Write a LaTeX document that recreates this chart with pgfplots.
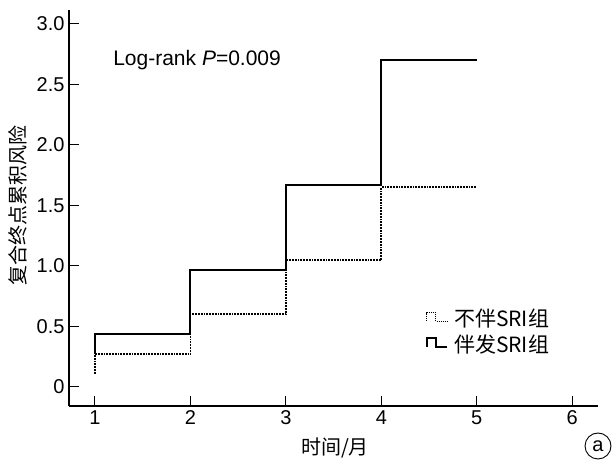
\documentclass[border=0pt]{standalone}
\usepackage{pgfplots}
\pgfplotsset{compat=1.18}
\usepackage{fontspec}
\setmainfont{Liberation Sans}
\newfontfamily\cjk{Noto Sans CJK SC}
\begin{document}
\begin{tikzpicture}
\begin{axis}[
  scale only axis,
  width=529pt, height=396pt,
  at={(0,0)}, anchor=south west,
  xmin=0.728, xmax=6.27,
  ymin=-0.157, ymax=3.115,
  axis lines=left,
  axis line style={-, line width=1.3pt},
  xtick={1,2,3,4,5,6},
  ytick={0,0.5,1,1.5,2,2.5,3},
  yticklabels={0,0.5,1.0,1.5,2.0,2.5,3.0},
  tick align=inside,
  major tick length=10pt,
  tick style={line width=1pt, black},
  /pgf/number format/assume math mode=true,
  ticklabel style={font=\fontsize{20}{22}\selectfont},
  xticklabel style={yshift=-1pt},
  yticklabel style={xshift=-1pt},
  clip=false,
]
\addplot[black, line width=1.8pt, densely dotted] coordinates {
 (1,0.11) (1,0.27) (2,0.27) (2,0.60) (3,0.60) (3,1.05) (4,1.05) (4,1.65) (5,1.65)};
\addplot[black, line width=2pt] coordinates {
 (1,0.27) (1,0.44) (2,0.44) (2,0.97) (3,0.97) (3,1.67) (4,1.67) (4,2.70) (5,2.70)};
\node[anchor=west, font=\fontsize{21}{24}\selectfont, inner sep=0pt] at (axis cs:1.19,2.70) {Log-rank \textit{P}=0.009};
% legend
\draw[black, line width=1pt, densely dotted] (axis cs:4.477,0.545) -- (axis cs:4.477,0.612) -- (axis cs:4.571,0.612) -- (axis cs:4.571,0.545) -- (axis cs:4.686,0.545);
\node[anchor=west, font=\fontsize{21}{23}\selectfont\cjk, inner sep=0pt] at (axis cs:4.76,0.562) {不伴SRI组};
\draw[black, line width=1.4pt] (axis cs:4.477,0.331) -- (axis cs:4.477,0.405) -- (axis cs:4.571,0.405) -- (axis cs:4.571,0.331) -- (axis cs:4.686,0.331);
\node[anchor=west, font=\fontsize{21}{23}\selectfont\cjk, inner sep=0pt] at (axis cs:4.76,0.355) {伴发SRI组};
\end{axis}
\node[font=\fontsize{20}{22}\selectfont\cjk] at (266pt,-42pt) {时间/月};
\node[rotate=90, font=\fontsize{20}{22}\selectfont\cjk] at (-51pt,200pt) {复合终点累积风险};
\node[draw, circle, line width=0.9pt, minimum size=26pt, inner sep=0pt, font=\fontsize{20}{22}\selectfont] at (529pt,-40pt) {a};
\path (-69pt,-59pt) rectangle (544pt,406pt);
\end{tikzpicture}
\end{document}
